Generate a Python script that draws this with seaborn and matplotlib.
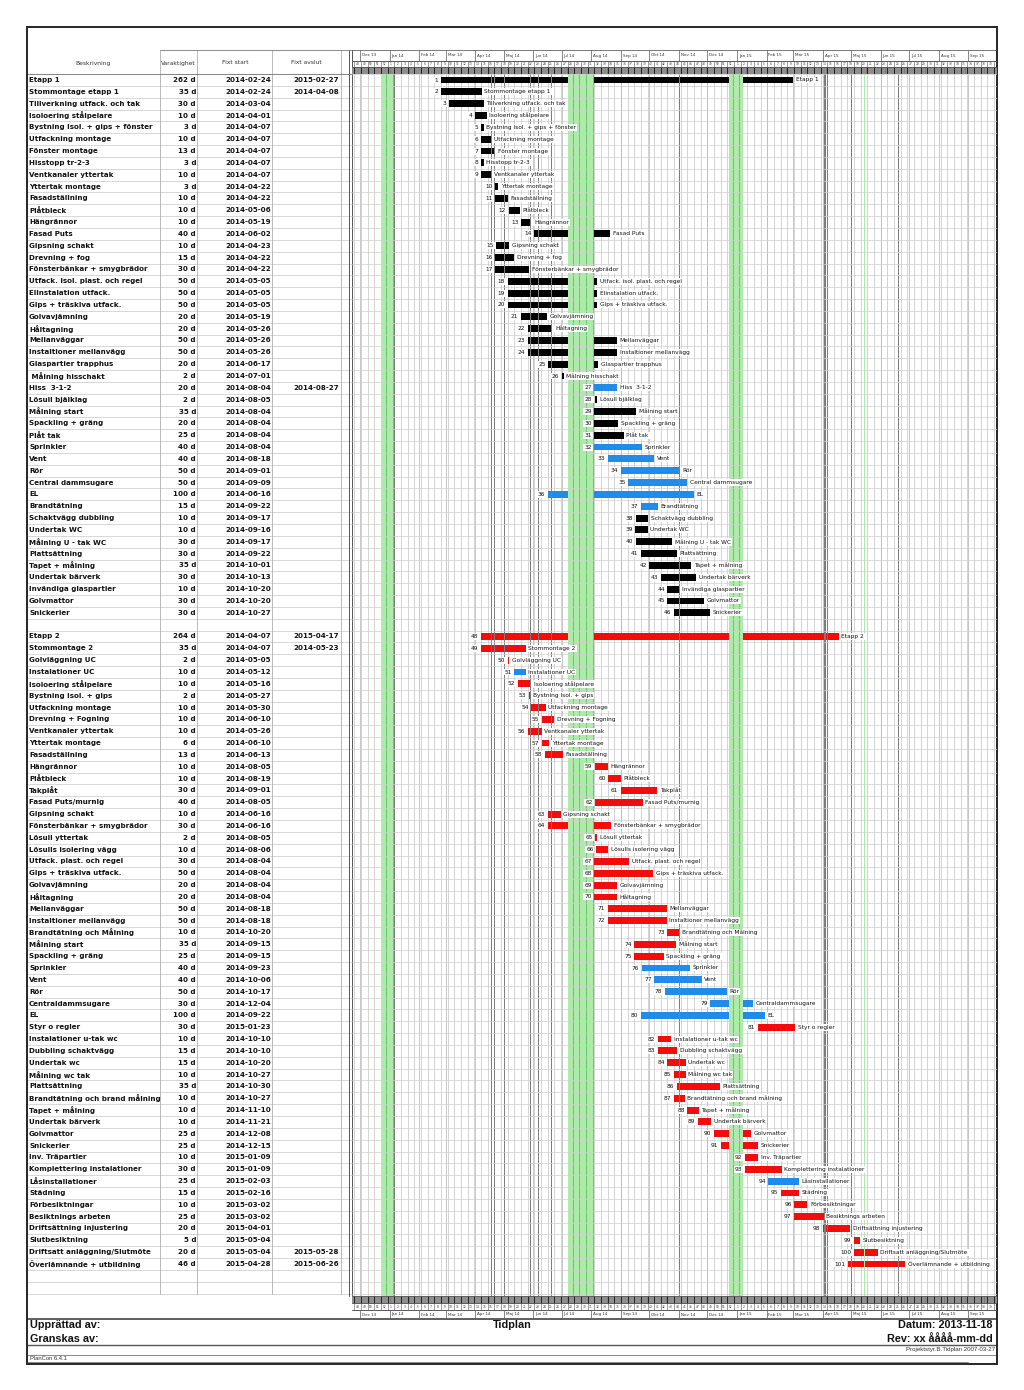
import numpy as np
import pandas as pd
import matplotlib
matplotlib.use("Agg")
import matplotlib.pyplot as plt
import matplotlib.dates as mdates
from matplotlib.patches import Rectangle
import seaborn as sns

# ------------------------------------------------------------------ data
e1_nr = list(range(1, 47))
e1_name = ["Etapp 1", "Stommontage etapp 1", "Tillverkning utfack. och tak", "Isoloering stålpelare",
           "Bystning Isol. + gips + fönster", "Utfackning montage", "Fönster montage", "Hisstopp tr-2-3",
           "Ventkanaler yttertak", "Yttertak montage", "Fasadställning", "Plåtbleck", "Hängrännor",
           "Fasad Puts", "Gipsning schakt", "Drevning + fog", "Fönsterbänkar + smygbrädor",
           "Utfack. isol. plast. och regel", "Elinstalation utfack.", "Gips + träskiva utfack.",
           "Golvavjämning", "Håltagning", "Mellanväggar", "Instaltioner mellanvägg", "Glaspartier trapphus",
           " Målning hisschakt", "Hiss  3-1-2", "Lösull bjälklag", "Målning start", "Spackling + gräng",
           "Plåt tak", "Sprinkler", "Vent", "Rör", "Central dammsugare", "EL", "Brandtätning",
           "Schaktvägg dubbling", "Undertak WC", "Målning U - tak WC", "Plattsättning", "Tapet + målning",
           "Undertak bärverk", "Invändiga glaspartier", "Golvmattor", "Snickerier"]
e1_dur = [262, 35, 30, 10, 3, 10, 13, 3, 10, 3, 10, 10, 10, 40, 10, 15, 30, 50, 50, 50, 20, 20, 50, 50, 20,
          2, 20, 2, 35, 20, 25, 40, 40, 50, 50, 100, 15, 10, 10, 30, 30, 35, 30, 10, 30, 30]
e1_start = ["2014-02-24", "2014-02-24", "2014-03-04", "2014-04-01", "2014-04-07", "2014-04-07", "2014-04-07",
            "2014-04-07", "2014-04-07", "2014-04-22", "2014-04-22", "2014-05-06", "2014-05-19", "2014-06-02",
            "2014-04-23", "2014-04-22", "2014-04-22", "2014-05-05", "2014-05-05", "2014-05-05", "2014-05-19",
            "2014-05-26", "2014-05-26", "2014-05-26", "2014-06-17", "2014-07-01", "2014-08-04", "2014-08-05",
            "2014-08-04", "2014-08-04", "2014-08-04", "2014-08-04", "2014-08-18", "2014-09-01", "2014-09-09",
            "2014-06-16", "2014-09-22", "2014-09-17", "2014-09-16", "2014-09-17", "2014-09-22", "2014-10-01",
            "2014-10-13", "2014-10-20", "2014-10-20", "2014-10-27"]
# bar ends
e1_end = ["2015-03-01", "2014-04-08", "2014-04-10", "2014-04-13", "2014-04-10", "2014-04-18", "2014-04-22",
          "2014-04-10", "2014-04-18", "2014-04-25", "2014-05-05", "2014-05-18", "2014-05-30", "2014-08-21",
          "2014-05-07", "2014-05-12", "2014-05-28", "2014-08-07", "2014-08-07", "2014-08-07", "2014-06-15",
          "2014-06-21", "2014-08-28", "2014-08-28", "2014-08-08", "2014-07-03", "2014-08-28", "2014-08-07",
          "2014-09-17", "2014-08-29", "2014-09-04", "2014-09-23", "2014-10-06", "2014-11-02", "2014-11-10",
          "2014-11-17", "2014-10-10", "2014-09-30", "2014-09-29", "2014-10-25", "2014-10-30", "2014-11-14",
          "2014-11-19", "2014-11-01", "2014-11-27", "2014-12-04"]
e1_blue = [27, 32, 33, 34, 35, 36, 37]

e2_nr = list(range(48, 102))
e2_name = ["Etapp 2", "Stommontage 2", "Golvläggning UC", "Instalationer UC", "Isoloering stålpelare",
           "Bystning Isol. + gips", "Utfackning montage", "Drevning + Fogning", "Ventkanaler yttertak",
           "Yttertak montage", "Fasadställning", "Hängrännor", "Plåtbleck", "Takplåt", "Fasad Puts/murnig",
           "Gipsning schakt", "Fönsterbänkar + smygbrädor", "Lösull yttertak", "Lösulls isolering vägg",
           "Utfack. plast. och regel", "Gips + träskiva utfack.", "Golvavjämning", "Håltagning",
           "Mellanväggar", "Instaltioner mellanvägg", "Brandtätning och Målning", "Målning start",
           "Spackling + gräng", "Sprinkler", "Vent", "Rör", "Centraldammsugare", "EL", "Styr o regler",
           "Instalationer u-tak wc", "Dubbling schaktvägg", "Undertak wc", "Målning wc tak", "Plattsättning",
           "Brandtätning och brand målning", "Tapet + målning", "Undertak bärverk", "Golvmattor",
           "Snickerier", "Inv. Träpartier", "Komplettering instalationer", "Låsinstallationer", "Städning",
           "Förbesiktningar", "Besiktnings arbeten", "Driftsättning injustering", "Slutbesiktning",
           "Driftsatt anläggning/Slutmöte", "Överlämnande + utbildning"]
e2_dur = [264, 35, 2, 10, 10, 2, 10, 10, 10, 6, 13, 10, 10, 30, 40, 10, 30, 2, 10, 30, 50, 20, 20, 50, 50,
          10, 35, 25, 40, 40, 50, 30, 100, 30, 10, 15, 15, 10, 35, 10, 10, 10, 25, 25, 10, 30, 25, 15, 10,
          25, 20, 5, 20, 46]
e2_start = ["2014-04-07", "2014-04-07", "2014-05-05", "2014-05-12", "2014-05-16", "2014-05-27", "2014-05-30",
            "2014-06-10", "2014-05-26", "2014-06-10", "2014-06-13", "2014-08-05", "2014-08-19", "2014-09-01",
            "2014-08-05", "2014-06-16", "2014-06-16", "2014-08-05", "2014-08-06", "2014-08-04", "2014-08-04",
            "2014-08-04", "2014-08-04", "2014-08-18", "2014-08-18", "2014-10-20", "2014-09-15", "2014-09-15",
            "2014-09-23", "2014-10-06", "2014-10-17", "2014-12-04", "2014-09-22", "2015-01-23", "2014-10-10",
            "2014-10-10", "2014-10-20", "2014-10-27", "2014-10-30", "2014-10-27", "2014-11-10", "2014-11-21",
            "2014-12-08", "2014-12-15", "2015-01-09", "2015-01-09", "2015-02-03", "2015-02-16", "2015-03-02",
            "2015-03-02", "2015-04-01", "2015-05-04", "2015-05-04", "2015-04-28"]
e2_end = ["2015-04-18", "2014-05-24", "2014-05-07", "2014-05-24", "2014-05-30", "2014-05-29", "2014-06-14",
          "2014-06-23", "2014-06-10", "2014-06-18", "2014-07-02", "2014-08-18", "2014-09-01", "2014-10-09",
          "2014-09-24", "2014-06-30", "2014-08-22", "2014-08-07", "2014-08-19", "2014-09-10", "2014-10-05",
          "2014-08-28", "2014-08-28", "2014-10-19", "2014-10-19", "2014-11-02", "2014-10-29", "2014-10-16",
          "2014-11-13", "2014-11-25", "2014-12-21", "2015-01-18", "2015-01-30", "2015-03-03", "2014-10-24",
          "2014-10-30", "2014-11-08", "2014-11-08", "2014-12-14", "2014-11-07", "2014-11-22", "2014-12-05",
          "2015-01-16", "2015-01-23", "2015-01-23", "2015-02-17", "2015-03-07", "2015-03-07", "2015-03-16",
          "2015-04-02", "2015-04-30", "2015-05-10", "2015-05-29", "2015-06-27"]
e2_blue = [51, 76, 77, 78, 79, 80, 94]

fixt_avslut = {1: "2015-02-27", 2: "2014-04-08", 27: "2014-08-27", 48: "2015-04-17",
               49: "2014-05-23", 100: "2015-05-28", 101: "2015-06-26"}

green_periods = [("2013-12-24", "2014-01-06"), ("2014-07-07", "2014-08-04"),
                 ("2014-12-24", "2015-01-07"), ("2015-05-14", "2015-05-15")]
gray_days = ["2014-01-06", "2014-04-18", "2014-04-21", "2014-05-01", "2014-05-29", "2014-06-06",
             "2014-06-20", "2014-11-01", "2015-04-03", "2015-04-06", "2015-05-01", "2015-06-19"]
month_sv = ["Jan", "Feb", "Mar", "Apr", "Maj", "Jun", "Jul", "Aug", "Sep", "Okt", "Nov", "Dec"]

header_cols = ["Beskrivning", "Varaktighet", "Fixt start", "Fixt avslut"]
footer_left = ["Upprättad av:", "Granskas av:"]
footer_title = "Tidplan"
footer_right = ["Datum: 2013-11-18", "Rev: xx åååå-mm-dd"]
footer_doc = "Projektstyr.B.Tidplan 2007-03-27"
footer_prog = "PlanCon 6.4.1"

# ------------------------------------------------------------------ table
BLACK, BLUE, RED = "#000000", "#1f8ceb", "#f20c0c"
df1 = pd.DataFrame({"nr": e1_nr, "name": e1_name, "dur": e1_dur, "start": e1_start, "end": e1_end})
df1["color"] = [BLUE if n in e1_blue else BLACK for n in e1_nr]
df2 = pd.DataFrame({"nr": e2_nr, "name": e2_name, "dur": e2_dur, "start": e2_start, "end": e2_end})
df2["color"] = [BLUE if n in e2_blue else RED for n in e2_nr]
df = pd.concat([df1, df2], ignore_index=True)
df["t0"] = mdates.date2num(pd.to_datetime(df["start"]))
df["t1"] = mdates.date2num(pd.to_datetime(df["end"]))
df["row"] = df["nr"] - 1

# ------------------------------------------------------------------ layout
sns.set_theme(style="white")
plt.rcParams["font.family"] = ["DejaVu Sans"]

W, H = 1024, 1390
fig = plt.figure(figsize=(W / 100, H / 100), dpi=100)


def fbox(x0, y0, x1, y1):
    return [x0 / W, 1 - y1 / H, (x1 - x0) / W, (y1 - y0) / H]


ROW_H = 11.84
Y_ROW0 = 80.0
GX0, GX1 = 352, 997
GY0 = Y_ROW0 - ROW_H / 2
GY1 = 1296
D0 = mdates.date2num(pd.Timestamp("2013-12-01"))
PXD = 0.952
XD0 = 360
T_LEFT = D0 - (XD0 - GX0) / PXD
T_RIGHT = D0 + (GX1 - XD0) / PXD
px2d = 1 / PXD

page = fig.add_axes([0, 0, 1, 1])
page.set_xlim(0, W)
page.set_ylim(H, 0)
page.axis("off")

# ---------------- gantt area
gax = fig.add_axes(fbox(GX0, GY0, GX1, GY1))
gax.set_xlim(T_LEFT, T_RIGHT)
n_vis = (GY1 - GY0) / ROW_H
gax.set_ylim(n_vis - 0.5, -0.5)
gax.axis("off")

mondays = mdates.date2num(pd.date_range("2013-11-25", "2015-10-05", freq="W-MON"))
months = pd.date_range("2013-12-01", "2015-10-01", freq="MS")
gax.vlines(mondays, -0.5, n_vis, color="#c9c9c9", lw=0.55, zorder=1)
gax.vlines(mdates.date2num(months), -0.5, n_vis, color="#b8b8b8", lw=0.55, zorder=1)

bars = gax.barh(df["row"], df["t1"] - df["t0"], left=df["t0"], height=0.58,
                color=df["color"], lw=0, zorder=3)

GREEN, DGREEN = "#aeeaa9", "#6fc26f"
for a, b in green_periods:
    ta, tb = mdates.date2num(pd.Timestamp(a)), mdates.date2num(pd.Timestamp(b))
    gax.axvspan(ta, tb, color=GREEN, lw=0, zorder=4)
    for d in pd.date_range(a, b, freq="D"):
        if d.weekday() == 5 and mdates.date2num(d) + 2 <= tb + 0.01:
            t = mdates.date2num(d)
            gax.axvspan(t + 0.5, t + 1.6, color=DGREEN, lw=0, zorder=4.1)
for g in gray_days:
    t = mdates.date2num(pd.Timestamp(g))
    gax.axvspan(t - 0.1, t + 1.1, color="#7d7d7d", lw=0, zorder=4.2)

for k in range(0, int(n_vis) + 1):
    gax.axhline(k - 0.5, color="#cfcfcf", lw=0.5, zorder=4.5)

lab_kw = dict(fontsize=4.2, va="center", zorder=6, color="#111111",
              bbox=dict(facecolor="white", edgecolor="none", pad=0.7))
for _, r in df.iterrows():
    gax.text(r["t0"] - 2.6 * px2d, r["row"], str(r["nr"]), ha="right", **lab_kw)
    gax.text(r["t1"] + 2.6 * px2d, r["row"], r["name"].strip(), ha="left", **lab_kw)

# ---------------- timeline headers (top and bottom)
days = mdates.date2num(pd.date_range("2013-11-22", "2015-10-01", freq="D"))


def timeline(ax, y_month, y_week, y_tick):
    ax.set_xlim(T_LEFT, T_RIGHT)
    ax.axis("off")
    ax.axhspan(y_tick[0], y_tick[1], color="#a4a4a4", lw=0)
    ax.vlines(days[::2], y_tick[0], y_tick[1], color="#4a4a4a", lw=0.35)
    ax.vlines(mondays, y_tick[0], y_tick[1], color="#1a1a1a", lw=0.65)
    ax.vlines(mondays, y_week[0], y_week[1], color="#666666", lw=0.45)
    for m in mondays:
        if T_LEFT <= m + 3.5 <= T_RIGHT:
            wk = mdates.num2date(m).isocalendar()[1]
            ax.text(m + 3.5, sum(y_week) / 2, str(wk), fontsize=2.1, ha="center", va="center",
                    color="#333333")
    mt = mdates.date2num(months)
    ax.vlines(mt, y_month[0], y_month[1], color="#666666", lw=0.55)
    for d, t in zip(months[:-1], mt[:-1]):
        ax.text(t + 2.0, sum(y_month) / 2, f"{month_sv[d.month - 1]} {d.year % 100:02d}",
                fontsize=3.0, ha="left", va="center", color="#333333")
    for y in list(y_month) + list(y_week) + list(y_tick):
        ax.axhline(y, color="#555555", lw=0.55)


tax = fig.add_axes(fbox(GX0, 50, GX1, GY0))
tax.set_ylim(GY0, 50)
timeline(tax, (50, 61), (61, 67), (67, GY0))

bax = fig.add_axes(fbox(GX0, GY1, GX1, 1319))
bax.set_ylim(1319, GY1)
timeline(bax, (1310, 1319), (1303, 1310), (GY1, 1303))

# ---------------- table (page coordinates)
TY_END = GY0 + 103 * ROW_H
for k in range(0, 104):
    y = GY0 + k * ROW_H
    page.plot([27, 352], [y, y], color="#c8c8c8", lw=0.5, zorder=1)
for x in [160, 197, 272, 341]:
    page.plot([x, x], [50, TY_END], color="#b0b0b0", lw=0.6, zorder=1)
for x in [348.5, 352]:
    page.plot([x, x], [50, GY1], color="#555555", lw=0.7, zorder=2)
page.plot([160, 352], [50, 50], color="#777777", lw=0.6)
page.plot([27, 352], [GY0, GY0], color="#777777", lw=0.6)

hdr_x = [93, 178.5, 235, 306]
for t, x in zip(header_cols, hdr_x):
    page.text(x, 63, t, fontsize=4.3, ha="center", va="center", color="#333333")

tkw = dict(fontsize=5.15, fontweight="bold", va="center", color="#111111")
for _, r in df.iterrows():
    y = Y_ROW0 + r["row"] * ROW_H
    page.text(29, y, r["name"], ha="left", **tkw)
    page.text(196, y, f"{r['dur']} d", ha="right", **tkw)
    page.text(271, y, r["start"], ha="right", **tkw)
    if r["nr"] in fixt_avslut:
        page.text(339, y, fixt_avslut[r["nr"]], ha="right", **tkw)

# ---------------- frame and footer
page.add_patch(Rectangle((27, 27), 970, 1337, fill=False, edgecolor="#262626", lw=1.4, zorder=10))
page.plot([27, 997], [1319, 1319], color="#333333", lw=1.1)
page.plot([27, 997], [1345, 1345], color="#555555", lw=1.0)
page.plot([27, 997], [1355, 1355], color="#777777", lw=0.6)
page.plot([27, 968], [1362, 1362], color="#777777", lw=0.6)

fkw = dict(fontsize=7.8, fontweight="bold", va="center", color="#111111", family=["Liberation Sans"])
page.text(30, 1325.5, footer_left[0], ha="left", **fkw)
page.text(30, 1338.5, footer_left[1], ha="left", **fkw)
page.text(512, 1325.5, footer_title, ha="center", **fkw)
page.text(993, 1325.5, footer_right[0], ha="right", **fkw)
page.text(993, 1338.5, footer_right[1], ha="right", **fkw)
page.text(995, 1350, footer_doc, ha="right", va="center", fontsize=4.4, color="#333333",
          family=["Liberation Sans"])
page.text(30, 1359, footer_prog, ha="left", va="center", fontsize=4.2, color="#333333",
          family=["Liberation Sans"])

fig.savefig("out.png", dpi=100, facecolor="white")
